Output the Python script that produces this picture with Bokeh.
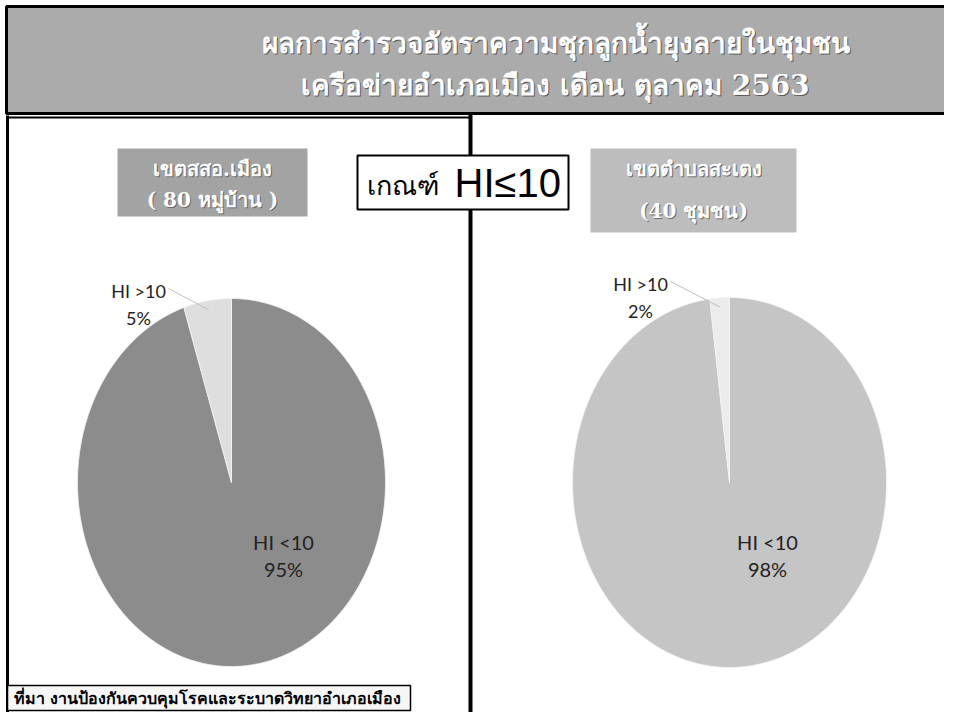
import numpy as np
from bokeh.plotting import figure
from bokeh.models import Range1d, ColumnDataSource
from bokeh.core.properties import value
from bokeh.embed import file_html
from bokeh.resources import INLINE

# ---------------- data ----------------
title_lines = ["ผลการสำรวจอัตราความชุกลูกน้ำยุงลายในชุมชน",
               "เครือข่ายอำเภอเมือง เดือน ตุลาคม 2563"]
criterion_word = "เกณฑ์"
criterion_value = "HI≤10"
left_zone = ["เขตสสอ.เมือง", "( 80 หมู่บ้าน )"]
right_zone = ["เขตตำบลสะเตง", "(40 ชุมชน)"]
categories = ["HI <10", "HI >10"]
left_values = [95, 5]
right_values = [98, 2]
source_note = "ที่มา งานป้องกันควบคุมโรคและระบาดวิทยาอำเภอเมือง"

# ---------------- figure ----------------
p = figure(width=944, height=712, x_range=Range1d(0, 944), y_range=Range1d(712, 0),
           min_border=0, toolbar_location=None, output_backend="svg",
           x_axis_location=None, y_axis_location=None)
p.grid.visible = False
p.outline_line_color = None
p.background_fill_color = "white"
p.border_fill_color = "white"

THAI = value("DejaVu Serif")
SANS = value("Lato")

# title box
p.quad(left=[6], right=[962], top=[6], bottom=[113], fill_color="#ababab",
       line_color="black", line_width=3)
for i, t in enumerate(title_lines):
    y = 43 + i * 42
    p.text(x=[556], y=[y + 1], text=[t], text_align="center", text_baseline="middle",
           text_font=THAI, text_font_size="28px", text_color="#5a5a5a", text_font_style="bold")
    p.text(x=[555], y=[y], text=[t], text_align="center", text_baseline="middle",
           text_font=THAI, text_font_size="28px", text_color="white", text_font_style="bold")

# panel frame lines
p.segment(x0=[7], y0=[115], x1=[7], y1=[730], line_color="black", line_width=3)
p.segment(x0=[7], y0=[117], x1=[470], y1=[117], line_color="black", line_width=2)
p.segment(x0=[470], y0=[113], x1=[470], y1=[730], line_color="black", line_width=4)

# zone boxes
p.quad(left=[117], right=[307], top=[148], bottom=[216], fill_color="#a3a3a3", line_color=None)
p.quad(left=[590], right=[796], top=[148], bottom=[232], fill_color="#bdbdbd", line_color=None)
for zone, cx, ys, fs in ((left_zone, 212, (168, 199), "20px"), (right_zone, 693, (168, 210), "20px")):
    for t, y in zip(zone, ys):
        p.text(x=[cx + 1], y=[y + 1], text=[t], text_align="center", text_baseline="middle",
               text_font=THAI, text_font_size=fs, text_color="#6a6a6a", text_font_style="bold")
        p.text(x=[cx], y=[y], text=[t], text_align="center", text_baseline="middle",
               text_font=THAI, text_font_size=fs, text_color="white", text_font_style="bold")

# criterion box
p.quad(left=[357], right=[568], top=[155], bottom=[209], fill_color="white",
       line_color="black", line_width=2)
p.text(x=[366], y=[185], text=[criterion_word], text_align="left", text_baseline="middle",
       text_font=value("DejaVu Sans"), text_font_size="27px", text_color="black")
p.text(x=[454], y=[182], text=[criterion_value], text_align="left", text_baseline="middle",
       text_font=value("Liberation Sans"), text_font_size="40px", text_color="black")


# ---------------- pies ----------------
def pie(values, cx, cy, rx, ry, colors):
    total = float(sum(values))
    xs, ys = [], []
    start = 0.0
    mids = []
    for v in values:
        frac = v / total
        end = start + frac * 2 * np.pi
        t = np.linspace(start, end, max(3, int(360 * frac)))
        xs.append([cx] + list(cx + rx * np.sin(t)) + [cx])
        ys.append([cy] + list(cy - ry * np.cos(t)) + [cy])
        mids.append((start + end) / 2)
        start = end
    src = ColumnDataSource(dict(xs=xs, ys=ys, color=colors, label=categories))
    p.patches("xs", "ys", source=src, fill_color="color", line_color="#f4f4f4", line_width=0.8)
    return mids


lmids = pie(left_values, 231, 482, 154, 184, ["#8c8c8c", "#dedede"])
rmids = pie(right_values, 729, 482, 157, 185, ["#c5c5c5", "#ececec"])


def labels(values, mids, cx, cy, rx, ry, big_xy, small_xy):
    bx, by = big_xy
    p.text(x=[bx, bx], y=[by, by + 27], text=[categories[0], f"{values[0]}%"],
           text_align="center", text_baseline="middle", text_font=SANS,
           text_font_size="20px", text_color="#222222")
    sx, sy = small_xy
    p.text(x=[sx, sx], y=[sy, sy + 27], text=[categories[1], f"{values[1]}%"],
           text_align="center", text_baseline="middle", text_font=SANS,
           text_font_size="18px", text_color="#222222")
    m = mids[1]
    ex = cx + rx * 0.95 * np.sin(m)
    ey = cy - ry * 0.95 * np.cos(m)
    p.segment(x0=[sx + 30], y0=[sy - 2], x1=[ex], y1=[ey], line_color="#c0c0c0", line_width=1)


labels(left_values, lmids, 231, 482, 154, 184, (283, 541), (138, 290))
labels(right_values, rmids, 729, 482, 157, 185, (767, 541), (640, 283))

# source note
p.quad(left=[7], right=[410], top=[685], bottom=[710], fill_color="#f6f6f6",
       line_color="black", line_width=1.5)
p.text(x=[13], y=[698], text=[source_note], text_align="left", text_baseline="middle",
       text_font=THAI, text_font_size="16px", text_color="black", text_font_style="bold")

open("out.html", "w").write(file_html(p, INLINE))
